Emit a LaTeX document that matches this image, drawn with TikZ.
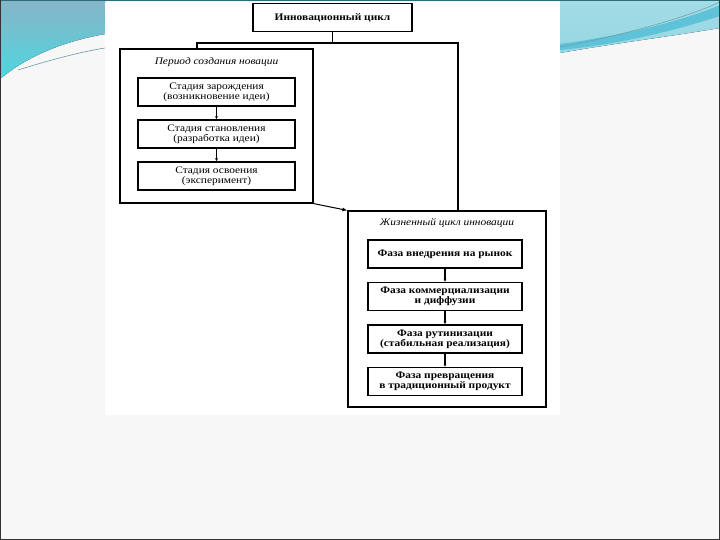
\documentclass[tikz,border=0pt]{standalone}
\usepackage{fontspec}
\setmainfont{Liberation Serif}
\newfontfamily\scanfont[FakeStretch=1.14]{Liberation Serif}
\usetikzlibrary{arrows.meta}
\definecolor{slidebg}{HTML}{F7F7F7}
\definecolor{wavetop}{HTML}{86B4C6}
\definecolor{wavecyan}{HTML}{4FD6E0}
\definecolor{waveright}{HTML}{A3DCE6}
\definecolor{waveband}{HTML}{5EC2D8}
\definecolor{edgeteal}{HTML}{2B6E78}

\begin{document}
\begin{tikzpicture}[x=1pt,y=-1pt,line width=1.3pt,
  framebox/.style={draw,line width=1.2pt,inner sep=0pt},
  stagebox/.style={draw,minimum width=157pt,minimum height=28pt,inner sep=1pt,
    align=center,font=\scanfont\fontsize{10}{10}\selectfont},
  phasebox/.style={stagebox,minimum width=154pt,font=\scanfont\fontsize{10}{10}\selectfont\bfseries},
  tip/.style={-{Latex[length=3pt,width=3pt]}}]
\useasboundingbox (0,0) rectangle (720,540);
% slide
\fill [slidebg] (0,0) rectangle (720,540);
\fill [top color=wavetop,bottom color=wavecyan] (0,0) -- (105,0) -- (105,34)
  .. controls (60,42) and (25,58) .. (0,79) -- cycle;
\draw [line width=0.6pt,edgeteal!70] (18,70) .. controls (50,60) and (80,52) .. (105,48);
\fill [top color=waveright,bottom color=waveright!80!waveband] (560,0) -- (720,0) -- (720,28)
  .. controls (660,38) and (610,44) .. (560,53) -- cycle;
\fill [waveband] (560,44) .. controls (620,36) and (680,22) .. (720,5) -- (720,16)
  .. controls (670,32) and (620,44) .. (560,50) -- cycle;
\draw [line width=0.5pt,edgeteal!70] (560,47) .. controls (630,34) and (690,16) .. (720,2);
\fill [white] (105,2) rectangle (560,415);
\draw [line width=1.5pt,edgeteal] (0,0.5) -- (720,0.5);
\draw [line width=1pt,gray!40!black] (0.5,0) -- (0.5,539.5) -- (719.5,539.5) -- (719.5,0);
% top
\node [phasebox,minimum width=159pt] (cycle) at (332.5,17.5) {Инновационный цикл};
% creation period
\node [framebox,minimum width=193pt,minimum height=154pt] (period) at (216.5,126) {};
\node [font=\scanfont\fontsize{10}{10}\selectfont\itshape] (periodtitle) at (216.5,62)
  {Период создания новации};
\foreach \i/\txt in {1/{Стадия зарождения\\(возникновение идеи)},
2/{Стадия становления\\(разработка идеи)}, 3/{Стадия освоения\\(эксперимент)}}
\node [stagebox] (stage\i) at (216.5,50+42*\i) {\txt};
\foreach \i/\j in {1/2,2/3}
\draw [tip] (stage\i) -- (stage\j);
% life cycle
\node [framebox,minimum width=198pt,minimum height=196pt] (life) at (447,309) {};
\node [font=\scanfont\fontsize{10}{10}\selectfont\itshape] (lifetitle) at (447,223)
  {Жизненный цикл инновации};
\foreach \i/\txt in {1/{Фаза внедрения на рынок}, 2/{Фаза коммерциализации\\и диффузии},
3/{Фаза рутинизации\\(стабильная реализация)}, 4/{Фаза превращения\\в традиционный продукт}}
\node [phasebox] (phase\i) at (445,211.5+42.5*\i) {\txt};
\foreach \i/\j in {1/2,2/3,3/4}
\draw [tip] (phase\i) -- (phase\j);
% links
\coordinate (splitl) at (197,43);
\coordinate (splitr) at (458,43);
\draw (cycle.south) -- (cycle.south |- splitl);
\draw (splitl |- period.north) -- (splitl) -- (splitr) -- (splitr |- life.north);
\draw [line width=1pt,-{Latex[length=5pt,width=4pt]}] (period.south east) -- (life.north west);
\end{tikzpicture}
\end{document}
